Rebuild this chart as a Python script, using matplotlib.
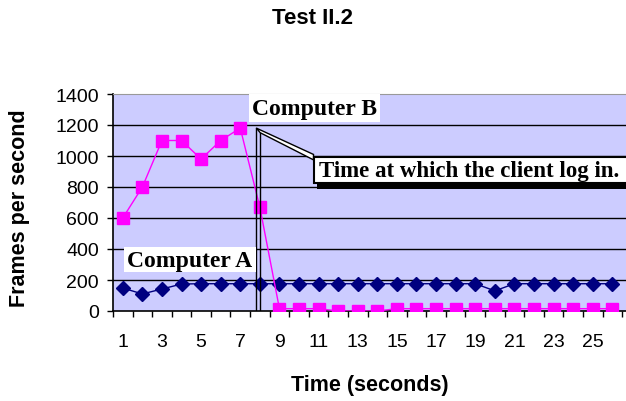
import matplotlib.pyplot as plt
from matplotlib.patches import Rectangle, Polygon

# seconds 1..26
seconds = list(range(1, 27))
computer_a = [148, 110, 142, 174, 176, 176, 176, 176, 176, 176, 176, 176, 176,
              176, 176, 176, 176, 176, 176, 130, 176, 176, 176, 176, 176, 176]
computer_b = [600, 800, 1100, 1100, 980, 1100, 1180, 670, 15, 15, 15, 0, 0,
              0, 15, 15, 15, 15, 15, 15, 15, 15, 15, 15, 15, 15]
y_ticks = [0, 200, 400, 600, 800, 1000, 1200, 1400]
x_tick_labels = seconds[::2]

fig = plt.figure(figsize=(6.26, 4.02), dpi=100)
ax = fig.add_axes([113 / 626, 1 - 312 / 402, 1 - 113 / 626, (312 - 95) / 402])
ax.set_facecolor('#CCCCFF')

for v in y_ticks[1:-1]:
    ax.axhline(v, color='black', lw=1, zorder=1)

ax.plot(seconds, computer_a, color='#000080', lw=1, marker='D', ms=7.5, zorder=3)
ax.plot(seconds, computer_b, color='#FF00FF', lw=1, marker='s', ms=9, zorder=4)

ax.set_xlim(0.5, 26.7)
ax.set_ylim(0, 1400)
ax.set_yticks(y_ticks)
ax.set_xticks(x_tick_labels)
ax.set_xticks([s + 0.5 for s in range(0, 27)], minor=True)
ax.tick_params(axis='x', which='major', length=0, pad=16, labelsize=14)
ax.tick_params(axis='x', which='minor', length=4, direction='out', width=1)
ax.tick_params(axis='y', length=4, direction='out', width=1, labelsize=14, pad=6)
for lab in ax.get_xticklabels() + ax.get_yticklabels():
    lab.set_fontfamily('Liberation Sans')

ax.spines['right'].set_visible(False)
ax.spines['top'].set_color('#999999')
ax.spines['left'].set_linewidth(1.2)
ax.spines['bottom'].set_linewidth(1.2)

# login marker: double vertical line and callout
ax.plot([7.82, 7.82], [0, 1180], color='black', lw=1, zorder=5)
ax.plot([8.02, 8.02], [0, 1150], color='black', lw=1, zorder=5)
ax.add_patch(Polygon([(7.82, 1180), (10.74, 1010), (10.74, 975), (8.02, 1150)],
                     closed=True, facecolor='white', edgecolor='black', lw=1, zorder=5))
ax.add_patch(Rectangle((10.9, 787), 20, 165, facecolor='black', zorder=5, clip_on=False))
ax.add_patch(Rectangle((10.74, 826), 20, 167, facecolor='white', edgecolor='black', lw=1.5,
                       zorder=6, clip_on=False))
ax.text(11.0, 905, 'Time at which the client log in.', family='Liberation Serif',
        weight='bold', fontsize=16.5, va='center', ha='left', zorder=7)

ax.add_patch(Rectangle((7.43, 1219), 6.73, 181, facecolor='white', zorder=6, clip_on=False))
ax.text(10.8, 1305, 'Computer B', family='Liberation Serif', weight='bold',
        fontsize=17, va='center', ha='center', zorder=7)
ax.add_patch(Rectangle((1.05, 252), 6.75, 161, facecolor='white', zorder=6))
ax.text(4.42, 328, 'Computer A', family='Liberation Serif', weight='bold',
        fontsize=17, va='center', ha='center', zorder=7)

fig.text(370 / 626, 1 - 386 / 402, 'Time (seconds)', family='Liberation Sans',
         weight='bold', fontsize=15.5, ha='center', va='center')
fig.text(20 / 626, 1 - 208 / 402, 'Frames per second', family='Liberation Sans',
         weight='bold', fontsize=15.5, ha='center', va='center', rotation=90)
fig.text(312 / 626, 1 - 18 / 402, 'Test II.2', family='Liberation Sans', weight='bold',
         fontsize=16, ha='center', va='center')

fig.savefig('out.png', dpi=100)
